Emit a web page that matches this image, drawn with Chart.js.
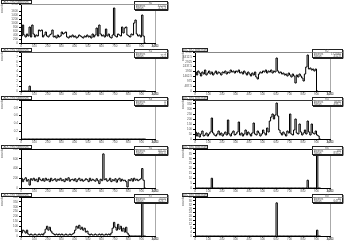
<!DOCTYPE html>
<html lang="en">
<head>
<meta charset="UTF-8">
<title>Histograms</title>
<style>
* { margin: 0; padding: 0; box-sizing: border-box; }
body { width: 362px; height: 241px; background: #fff; position: relative; overflow: hidden; }
canvas { position: absolute; }
</style>
</head>
<body>
<script src="https://cdn.jsdelivr.net/npm/chart.js@4.4.1/dist/chart.umd.min.js"></script>
<script>
// bin contents, 10 units per bin, x axis 0..1000
const p1Counts = [150, 350, 900, 400, 300, 450, 350, 800, 300, 900,
  450, 300, 400, 350, 650, 600, 650, 300, 400, 550,
  350, 300, 400, 450, 650, 300, 350, 250, 400, 300,
  350, 550, 450, 500, 550, 300, 250, 350, 300, 400,
  300, 350, 250, 300, 400, 350, 300, 250, 350, 300,
  400, 300, 350, 250, 450, 300, 400, 750, 350, 900,
  450, 350, 400, 300, 700, 350, 450, 300, 250, 400,
  1750, 350, 300, 450, 400, 350, 800, 500, 750, 800,
  400, 350, 300, 450, 400, 1000, 1150, 450, 350, 400,
  300, 1400, 350];
const p3Counts = [1700, 1900, 1600, 2000, 1800, 1500, 1900, 1700, 2100, 1600,
  1800, 2000, 1700, 1900, 1600, 1800, 2000, 1700, 1900, 1800,
  1600, 1900, 1800, 2000, 1700, 1900, 1800, 2100, 1900, 2000,
  1800, 2000, 1900, 2100, 1800, 1900, 1700, 2000, 1800, 1600,
  1900, 1700, 1500, 1800, 1600, 1900, 1400, 1200, 1700, 1900,
  1800, 2000, 1900, 2100, 1800, 2000, 1900, 2100, 1800, 2000,
  1900, 3300, 2000, 1800, 1900, 1700, 1800, 1600, 1700, 1500,
  1800, 1600, 1400, 1700, 1500, 800, 1600, 1400, 1700, 1500,
  1300, 1000, 1700, 2400, 3600, 2200, 2300, 2100, 2200, 2000, 2200];
const p5Counts = [40, 70, 30, 60, 20, 50, 80, 30, 40, 60,
  30, 50, 70, 210, 60, 40, 30, 50, 80, 40,
  60, 30, 50, 70, 40, 190, 50, 30, 60, 80,
  40, 50, 70, 170, 40, 60, 30, 50, 90, 40,
  70, 50, 30, 60, 160, 50, 40, 80, 60, 30,
  50, 90, 60, 40, 110, 70, 180, 220, 250, 200,
  240, 360, 230, 90, 60, 40, 70, 50, 30, 80,
  60, 250, 50, 40, 90, 200, 60, 50, 150, 70,
  40, 60, 90, 50, 180, 70, 40, 150, 60, 50,
  80, 40, 30];
const p6Counts = [150, 200, 130, 180, 210, 140, 170, 60, 190, 160,
  200, 150, 180, 130, 210, 170, 150, 190, 140, 200,
  160, 180, 130, 200, 150, 170, 190, 140, 180, 160,
  200, 150, 170, 130, 190, 160, 210, 140, 170, 180,
  150, 190, 130, 170, 200, 150, 180, 140, 160, 190,
  170, 130, 200, 150, 180, 160, 140, 190, 150, 90,
  180, 150, 700, 170, 190, 140, 160, 200, 130, 170,
  150, 190, 120, 170, 200, 140, 180, 150, 160, 130,
  20, 170, 150, 190, 140, 200, 160, 180, 150, 170,
  190, 400, 160];
const p8Counts = [20, 30, 60, 50, 30, 60, 20, 10, 20, 10,
  10, 20, 10, 10, 20, 10, 20, 10, 30, 70,
  100, 60, 90, 50, 30, 20, 10, 20, 10, 20,
  10, 20, 10, 10, 20, 10, 10, 20, 10, 20,
  30, 60, 100, 80, 110, 70, 90, 60, 80, 40,
  50, 20, 10, 20, 10, 10, 20, 10, 10, 20,
  10, 20, 10, 10, 20, 10, 20, 10, 30, 80,
  140, 90, 60, 120, 70, 100, 50, 80, 40, 90,
  30, 10, 0, 0, 0, 0, 0, 0, 0, 0,
  0, 1000, 0];
// sparse histograms: filled bins only, all others are empty
const p2Bins = [7], p2Vals = [1];
const p4Bins = [], p4Vals = [];
const p7Bins = [13, 84, 91], p7Vals = [10, 8, 100];
const p9Bins = [61, 91], p9Vals = [34, 6];

// y axis ranges and tick steps
const yMax = [1950, 8, 3900, 1, 390, 800, 40, 400, 40];
const yStep = [200, 1, 500, 0.2, 50, 200, 5, 50, 4];
const titles = ['ADC ch0 spectrum', 'ADC ch1 spectrum', 'ADC ch2 spectrum', 'ADC ch3 spectrum',
  'ADC ch4 spectrum', 'ADC ch5 spectrum', 'ADC ch6 spectrum', 'ADC ch7 spectrum', 'ADC ch8 spectrum'];
const entries = ['41250', '1', '172840', '0', '9630', '16120', '118', '4020', '40'];
const means = ['471.3', '72.5', '452.8', '0', '498.1', '461.0', '855.2', '624.7', '647.3'];

function sparse(bins, vals, n) {
  const out = new Array(n).fill(0);
  bins.forEach((b, i) => { out[b] = vals[i]; });
  return out;
}

const panels = [
  { row: 0, col: 0, counts: p1Counts, top: '#999' },
  { row: 1, col: 0, counts: sparse(p2Bins, p2Vals, 93), top: '#555' },
  { row: 1, col: 1, counts: p3Counts, top: '#888' },
  { row: 2, col: 0, counts: sparse(p4Bins, p4Vals, 93), top: '#000' },
  { row: 2, col: 1, counts: p5Counts, top: '#333' },
  { row: 3, col: 0, counts: p6Counts, top: '#000' },
  { row: 3, col: 1, counts: sparse(p7Bins, p7Vals, 93), top: '#000' },
  { row: 4, col: 0, counts: p8Counts, top: '#000' },
  { row: 4, col: 1, counts: sparse(p9Bins, p9Vals, 93), top: '#000' }
];

const tiny = { family: 'Liberation Sans', size: 3 };
const textGrey = '#555';

const rootBoxes = {
  id: 'rootBoxes',
  afterDraw(chart, args, o) {
    const ctx = chart.ctx, a = chart.chartArea;
    ctx.save();
    ctx.lineWidth = 1;
    // frame right and top
    ctx.strokeStyle = '#aaa';
    ctx.beginPath();
    ctx.moveTo(Math.round(a.right) + 0.5, a.top);
    ctx.lineTo(Math.round(a.right) + 0.5, a.bottom);
    ctx.stroke();
    ctx.strokeStyle = o.top;
    ctx.beginPath();
    ctx.moveTo(a.left, Math.round(a.top) + 0.5);
    ctx.lineTo(a.right, Math.round(a.top) + 0.5);
    ctx.stroke();
    // title box
    ctx.fillStyle = '#fff';
    ctx.strokeStyle = '#222';
    ctx.fillRect(1, 0, o.tw, 4);
    ctx.strokeRect(1.5, 0.5, o.tw, 3);
    ctx.fillStyle = textGrey;
    ctx.font = '3px "Liberation Sans"';
    ctx.textBaseline = 'middle';
    ctx.textAlign = 'center';
    ctx.fillText(o.title, 1 + o.tw / 2, 2);
    // stats box
    const sx = o.sx, sw = o.sw;
    ctx.fillStyle = '#fff';
    ctx.fillRect(sx, 1, sw, 9);
    ctx.strokeRect(sx + 0.5, 1.5, sw, 8);
    ctx.beginPath();
    ctx.moveTo(sx + 1, 10.5); ctx.lineTo(sx + sw + 1, 10.5);
    ctx.moveTo(sx + sw + 1, 2); ctx.lineTo(sx + sw + 1, 10.5);
    ctx.stroke();
    ctx.strokeStyle = '#999';
    ctx.beginPath();
    ctx.moveTo(sx + 0.5, 4.5); ctx.lineTo(sx + sw + 0.5, 4.5);
    ctx.stroke();
    ctx.fillStyle = textGrey;
    ctx.fillText('h' + o.idx, sx + sw / 2, 3);
    ctx.textAlign = 'left';
    ctx.fillText('Entries', sx + 2, 6);
    ctx.fillText('Mean', sx + 2, 8.5);
    ctx.textAlign = 'right';
    ctx.fillText(o.entries, sx + sw - 1, 6);
    ctx.fillText(o.mean, sx + sw - 1, 8.5);
    // x axis title
    ctx.fillText('ADC', a.right + 3, a.bottom + 3);
    ctx.restore();
  }
};

panels.forEach((p, i) => {
  const cv = document.createElement('canvas');
  cv.width = 181; cv.height = 48;
  cv.style.left = (p.col * 181) + 'px';
  cv.style.top = Math.round(p.row * 48.2) + 'px';
  document.body.appendChild(cv);

  const left = p.col === 0 ? 21 : 14;
  const right = p.col === 0 ? 155 : 149;
  const pts = [{ x: 0, y: 0 }];
  p.counts.forEach((c, b) => pts.push({ x: b * 10, y: c }));
  pts.push({ x: p.counts.length * 10, y: 0 });

  new Chart(cv.getContext('2d'), {
    type: 'line',
    data: {
      datasets: [{
        data: pts,
        stepped: 'after',
        borderColor: '#000',
        borderWidth: 1,
        pointRadius: 0,
        fill: false
      }]
    },
    options: {
      responsive: false,
      animation: false,
      devicePixelRatio: 1,
      layout: { padding: { top: 4, right: 181 - right, left: 0, bottom: 0 } },
      plugins: {
        legend: { display: false },
        tooltip: { enabled: false },
        rootBoxes: {
          idx: i, top: p.top, title: titles[i], entries: entries[i], mean: means[i],
          tw: p.col === 0 ? 30 : 25,
          sx: p.col === 0 ? 134 : 131, sw: p.col === 0 ? 33 : 30
        }
      },
      scales: {
        x: {
          type: 'linear', min: 0, max: 1000,
          afterFit: s => { s.height = 5; },
          border: { color: '#000', width: 1 },
          grid: { drawOnChartArea: false, drawTicks: true, tickLength: 1.5, color: '#000' },
          ticks: { stepSize: 100, autoSkip: false, maxRotation: 0, padding: 0, font: tiny, color: textGrey }
        },
        y: {
          min: 0, max: yMax[i],
          afterFit: s => { s.width = left; },
          border: { color: '#000', width: 1 },
          grid: { drawOnChartArea: false, drawTicks: true, tickLength: 2, color: '#000' },
          ticks: { stepSize: yStep[i], autoSkip: false, padding: 1, font: tiny, color: textGrey,
            callback: v => String(Math.round(v * 10) / 10) },
          title: { display: true, text: 'counts', align: 'end', padding: 0, font: tiny, color: textGrey }
        }
      }
    },
    plugins: [rootBoxes]
  });
});
</script>
</body>
</html>
